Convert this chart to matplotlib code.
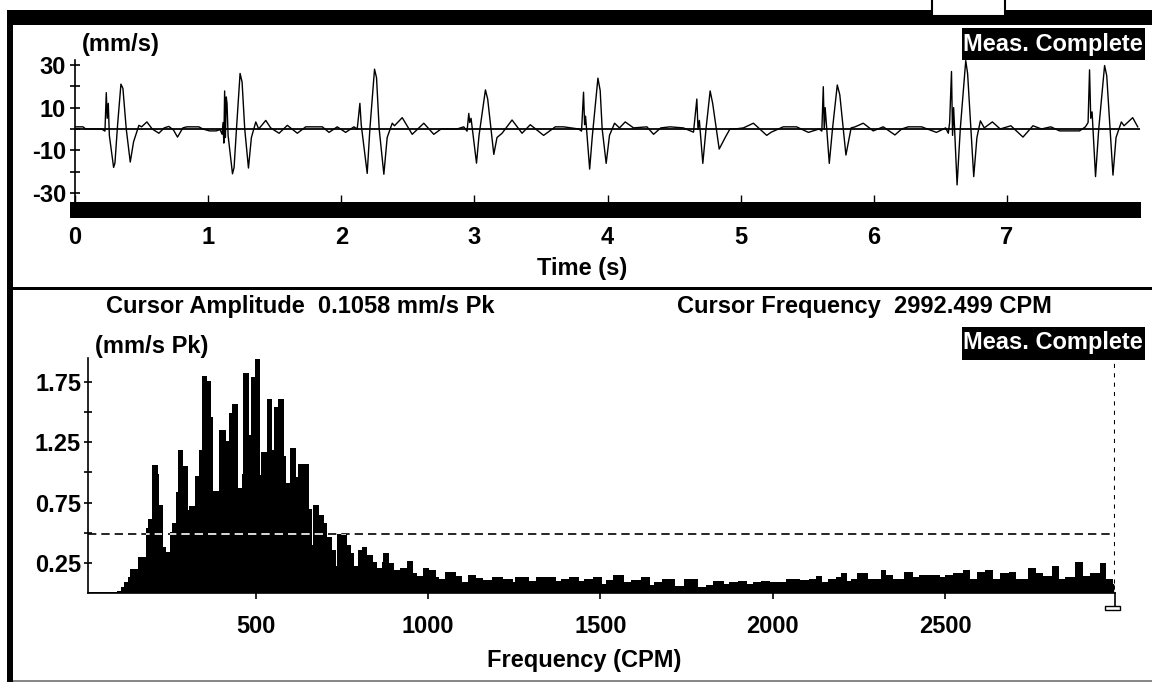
import matplotlib
matplotlib.use('Agg')
import matplotlib.pyplot as plt
from matplotlib.patches import Rectangle

plt.rcParams['font.family'] = ['Liberation Sans', 'DejaVu Sans']
plt.rcParams['font.weight'] = 'bold'
plt.rcParams['font.size'] = 17

# time waveform, turning points (s, mm/s)
wave_t = [0.00, 0.06, 0.08, 0.20, 0.225, 0.235, 0.242, 0.250, 0.258, 0.290, 0.300, 0.320, 0.345, 0.360,
          0.385, 0.415, 0.440, 0.480, 0.500, 0.540, 0.580, 0.630, 0.670, 0.705, 0.740, 0.770, 0.810, 0.840,
          0.930, 0.960, 1.010, 1.060, 1.090,
          1.105, 1.112, 1.118, 1.124, 1.130, 1.136, 1.142, 1.150, 1.183, 1.195, 1.215, 1.240, 1.255, 1.275,
          1.303, 1.325, 1.358, 1.380, 1.433, 1.470, 1.533, 1.595, 1.670, 1.733, 1.858, 1.908, 1.970, 2.033,
          2.095, 2.120,
          2.140, 2.150, 2.195, 2.215, 2.250, 2.265, 2.285, 2.320, 2.345, 2.383, 2.400, 2.458, 2.533, 2.620,
          2.695, 2.750, 2.870, 2.920, 2.945, 2.958, 2.965, 2.975, 3.016, 3.035, 3.083, 3.100, 3.146, 3.170,
          3.208, 3.283, 3.358, 3.420, 3.520, 3.608, 3.670, 3.783,
          3.805, 3.820, 3.828, 3.835, 3.866, 3.885, 3.928, 3.945, 3.960, 3.990, 4.015, 4.053, 4.090, 4.133,
          4.196, 4.296, 4.346, 4.400, 4.470, 4.570, 4.646,
          4.671, 4.680, 4.690, 4.716, 4.740, 4.771, 4.790, 4.839, 4.884, 4.920, 4.959, 5.021, 5.096, 5.196,
          5.230, 5.284, 5.320, 5.420, 5.509, 5.590,
          5.610, 5.621, 5.628, 5.635, 5.666, 5.690, 5.726, 5.745, 5.791, 5.830, 5.860, 5.921, 5.996, 6.071,
          6.159, 6.210, 6.259, 6.359, 6.471, 6.540, 6.560, 6.570,
          6.584, 6.592, 6.600, 6.626, 6.650, 6.691, 6.705, 6.751, 6.775, 6.801, 6.830, 6.891, 6.950, 7.030,
          7.121, 7.196, 7.260, 7.330, 7.396, 7.546, 7.590, 7.610,
          7.621, 7.630, 7.640, 7.666, 7.690, 7.734, 7.750, 7.797, 7.820, 7.860, 7.880, 7.945, 7.983]
wave_v = [1.0, 1.0, 0.0, 0.0, -1.0, 17.0, 5.0, 12.0, -3.0, -18.0, -16.0, 2.0, 21.0, 19.0,
          0.0, -15.5, -6.0, 1.7, 1.0, 3.3, 0.0, -2.0, 0.5, 1.2, -0.5, -3.8, 0.5, 1.0,
          1.0, 0.0, -0.9, -0.9, -0.3,
          -2.5, 3.0, -6.6, 17.8, -4.0, 15.0, 12.0, -3.0, -21.0, -18.0, 2.0, 26.0, 22.0, 0.0,
          -18.3, -4.0, 3.3, 0.0, 4.0, 0.5, -2.0, 1.7, -2.0, 1.0, 1.0, -1.6, 1.0, -1.6,
          1.0, 0.0,
          12.0, 2.0, -20.8, 0.0, 28.0, 24.0, 0.0, -21.2, -4.0, 2.7, 1.5, 5.3, -2.5, 2.7,
          -2.5, 0.0, 0.0, 1.0, -1.0, 7.3, 3.0, 5.0, -16.0, -3.0, 18.3, 14.0, -11.9, -4.0,
          -2.0, 4.2, -2.0, 2.0, -3.0, 1.0, 1.0, 0.0,
          -1.0, 17.2, 2.0, 6.0, -18.8, -4.0, 23.8, 18.0, 0.0, -16.1, -3.0, 2.7, 0.5, 3.3,
          0.5, 1.0, -2.5, 0.5, 1.0, 0.5, -1.5,
          14.0, 0.0, 4.0, -16.1, 0.0, 17.8, 12.0, -9.4, -4.0, 0.0, 0.0, 0.5, 2.7, -3.0,
          -1.5, 0.0, 1.0, 1.0, -1.6, 0.0,
          -1.0, 19.8, 0.0, 10.0, -16.1, 0.0, 20.6, 16.0, -12.2, 0.5, 1.0, 2.7, -0.9, 1.0,
          -2.8, 0.0, 1.0, 1.0, -1.6, 0.5, -2.0, 3.0,
          26.9, -3.0, 10.0, -26.2, 0.0, 32.0, 26.0, -22.3, -4.0, 3.8, 0.5, 3.3, 0.0, 1.5,
          -3.8, 1.5, 0.0, 1.0, -0.9, -0.9, 1.0, 3.0,
          27.7, 5.0, 8.0, -22.3, 0.0, 29.7, 25.0, -21.6, -4.0, 3.3, 1.5, 5.3, 1.0]

time_ticks = [0, 1, 2, 3, 4, 5, 6, 7]
wave_major = [30, 10, -10, -30]
wave_minor = [20, 0, -20]

# spectrum: left edge of each step (CPM) and amplitude (mm/s Pk)
spec_f = [13, 96, 108, 118, 128, 135, 159, 181, 188, 198, 212, 217, 229, 236, 251, 257, 267, 275, 286,
          299, 306, 323, 335, 343, 354, 367, 374, 394, 410, 422, 430, 444, 459, 463, 478, 487, 497, 509,
          516, 531, 545, 553, 565, 579, 584, 599, 615, 623, 650, 661, 666, 680, 695, 705, 719, 729, 736,
          763, 773, 783, 797, 807, 821, 836, 850, 865, 870, 884, 899, 918, 940, 953, 966, 985, 1001,
          1021, 1029, 1048, 1077, 1096, 1116, 1135, 1155, 1184, 1213, 1242, 1251, 1290, 1314, 1338,
          1367, 1386, 1410, 1434, 1453, 1477, 1502, 1516, 1535, 1564, 1588, 1617, 1641, 1656, 1680,
          1714, 1743, 1781, 1806, 1826, 1855, 1874, 1898, 1922, 1942, 1966, 1990, 2038, 2077, 2106,
          2125, 2140, 2159, 2183, 2197, 2212, 2226, 2245, 2274, 2284, 2313, 2327, 2346, 2380, 2404,
          2423, 2481, 2500, 2524, 2553, 2568, 2592, 2616, 2635, 2659, 2684, 2703, 2741, 2761, 2780,
          2809, 2828, 2848, 2877, 2896, 2920, 2949, 2965, 2983]
spec_a = [0.01, 0.02, 0.05, 0.09, 0.13, 0.196, 0.30, 0.536, 0.61, 1.06, 0.99, 0.73, 0.38, 0.34, 0.51,
          0.58, 0.84, 1.19, 1.05, 0.69, 0.72, 0.97, 1.19, 1.80, 1.76, 1.46, 0.85, 1.35, 1.26, 1.49,
          1.57, 0.87, 0.99, 1.825, 1.31, 1.79, 1.94, 0.98, 1.166, 1.61, 1.19, 1.54, 1.61, 1.14, 0.91,
          1.20, 0.96, 1.07, 0.70, 0.40, 0.73, 0.646, 0.58, 0.466, 0.36, 0.22, 0.49, 0.40, 0.33, 0.22,
          0.36, 0.38, 0.315, 0.26, 0.205, 0.26, 0.33, 0.246, 0.19, 0.205, 0.268, 0.168, 0.14, 0.21,
          0.195, 0.13, 0.12, 0.176, 0.14, 0.094, 0.149, 0.128, 0.108, 0.135, 0.115, 0.094, 0.135, 0.10,
          0.135, 0.13, 0.097, 0.115, 0.135, 0.097, 0.115, 0.13, 0.077, 0.108, 0.149, 0.094, 0.108,
          0.135, 0.066, 0.094, 0.113, 0.058, 0.113, 0.053, 0.066, 0.10, 0.077, 0.094, 0.10, 0.072,
          0.094, 0.10, 0.094, 0.115, 0.108, 0.12, 0.14, 0.094, 0.12, 0.135, 0.163, 0.10, 0.113, 0.163,
          0.113, 0.12, 0.19, 0.149, 0.12, 0.176, 0.135, 0.149, 0.135, 0.149, 0.163, 0.19, 0.12, 0.176,
          0.19, 0.12, 0.17, 0.176, 0.12, 0.205, 0.163, 0.14, 0.224, 0.113, 0.135, 0.26, 0.14, 0.17,
          0.25, 0.113, 0.077]
spec_end = 2993
freq_ticks = [500, 1000, 1500, 2000, 2500]
amp_major = [0.25, 0.75, 1.25, 1.75]
amp_minor = [0.5, 1.0, 1.5]
alarm_level = 0.49
cursor_freq = 2992.499
cursor_amp = 0.1058

W, H = 1152, 682
fig = plt.figure(figsize=(W / 100, H / 100), dpi=100)


def box(x0, y0, x1, y1, **kw):
    # rectangle given in pixels from the top-left corner
    fig.add_artist(Rectangle((x0 / W, 1 - y1 / H), (x1 - x0) / W, (y1 - y0) / H,
                             transform=fig.transFigure, **kw))


def label(x, y, s, **kw):
    fig.text(x / W, 1 - y / H, s, **kw)


# window frame
box(7, 10, W, 25, color='black', lw=0)
box(932, -2, 1005, 16, facecolor='white', edgecolor='black', lw=1.5)
box(7, 10, 13, H, color='black', lw=0)
box(13, 286.5, W, 289.5, color='black', lw=0)
box(13, 680, W, H, color='#888888', lw=0)

# ---- time waveform ----
ax1 = fig.add_axes([75 / W, 1 - 202 / H, 1065 / W, 142 / H])
ax1.set_xlim(0, 8)
ax1.set_ylim(-34.2, 32.3)
ax1.plot(wave_t, wave_v, color='black', lw=1.0)
ax1.axhline(0, color='black', lw=1.3)
for s in ['top', 'right', 'bottom']:
    ax1.spines[s].set_visible(False)
ax1.spines['left'].set_linewidth(1.2)
ax1.add_patch(Rectangle((-5 / 1065, -16 / 142), 1071 / 1065, 16 / 142, transform=ax1.transAxes,
                        color='black', lw=0, clip_on=False))
ax1.set_xticks(time_ticks)
ax1.set_xticklabels([str(t) for t in time_ticks])
ax1.tick_params(axis='x', direction='in', length=5, width=1, pad=17)
ax1.set_yticks(wave_major)
ax1.set_yticks(wave_minor, minor=True)
ax1.set_yticklabels([str(v) for v in wave_major])
ax1.tick_params(axis='y', which='both', direction='inout', length=7, width=1.2, pad=3)

label(82, 45, '(mm/s)', ha='left', va='center')
box(962, 28, 1145, 60, color='black', lw=0)
label(1053, 44, 'Meas. Complete', ha='center', va='center', color='white')
label(582, 268, 'Time (s)', ha='center', va='center')

# ---- spectrum ----
ax2 = fig.add_axes([88 / W, 1 - 593 / H, 1027 / W, 235 / H])
ax2.set_xlim(13, spec_end)
ax2.set_ylim(0, 1.95)

# one closed step outline, so the fill has no seams between lines
edges = spec_f + [spec_end]
px, py = [edges[0]], [0.0]
for i, a in enumerate(spec_a):
    px += [edges[i], edges[i + 1]]
    py += [a, a]
px.append(edges[-1])
py.append(0.0)
patch, = ax2.fill(px, py, color='black', lw=0.6, antialiased=False)

for s in ['top', 'right']:
    ax2.spines[s].set_visible(False)
ax2.spines['left'].set_linewidth(1.2)
ax2.spines['bottom'].set_linewidth(1.2)

# alarm line and cursor, drawn inverted where they cross the black spectrum
hx, hy = [13, cursor_freq], [alarm_level, alarm_level]
vx, vy = [cursor_freq, cursor_freq], [0, 1.95]
ax2.plot(hx, hy, color='black', lw=1.2, ls=(0, (5, 3)))
ax2.plot(vx, vy, color='black', lw=1.5, ls=(0, (2, 2.5)))
for xs, ys, ls in [(hx, hy, (0, (5, 3))), (vx, vy, (0, (2, 2.5)))]:
    ln, = ax2.plot(xs, ys, color='white', lw=1.2, ls=ls)
    ln.set_clip_path(patch)
ax2.plot([cursor_freq, cursor_freq], [0, -0.11], color='black', lw=1.2, clip_on=False)
ax2.add_patch(Rectangle((cursor_freq - 28, -0.14), 44, 0.03, facecolor='white', edgecolor='black',
                        lw=1, clip_on=False))

ax2.set_xticks(freq_ticks)
ax2.set_xticklabels([str(f) for f in freq_ticks])
ax2.tick_params(axis='x', direction='out', length=4, width=1.2, pad=12)
ax2.set_yticks(amp_major)
ax2.set_yticks(amp_minor, minor=True)
ax2.set_yticklabels(['%.2f' % v for v in amp_major])
ax2.tick_params(axis='y', which='both', direction='inout', length=6, width=1.2, pad=2)

label(106, 306, 'Cursor Amplitude  %.4f mm/s Pk' % cursor_amp, ha='left', va='center')
label(677, 306, 'Cursor Frequency  %.3f CPM' % cursor_freq, ha='left', va='center')
label(95, 346, '(mm/s Pk)', ha='left', va='center')
box(962, 327, 1145, 360, color='black', lw=0)
label(1053, 343, 'Meas. Complete', ha='center', va='center', color='white')
label(584, 661, 'Frequency (CPM)', ha='center', va='center')

fig.savefig('out.png', dpi=100, facecolor='white')
